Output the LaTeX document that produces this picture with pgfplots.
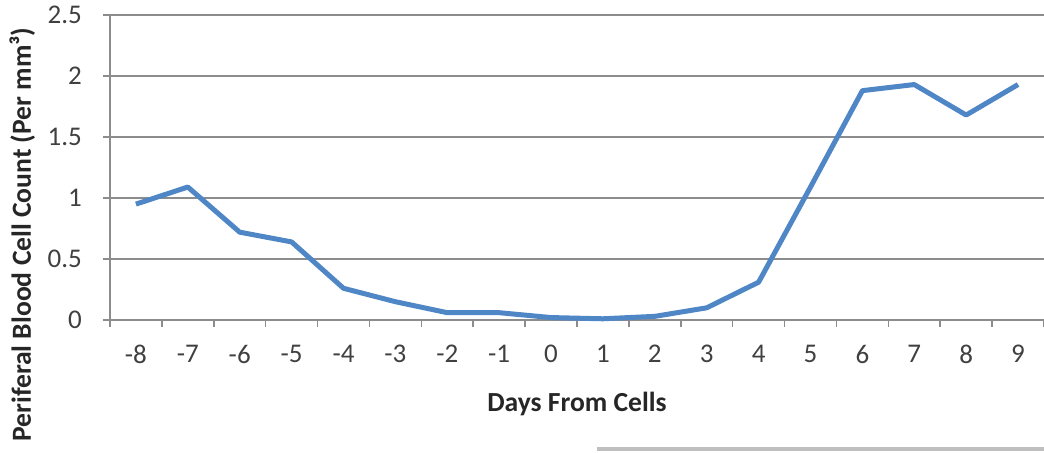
\documentclass[border=0pt]{standalone}
\usepackage{pgfplots}
\pgfplotsset{compat=1.18}
\usepackage{fontspec}
\setmainfont{Carlito}
\definecolor{linecol}{RGB}{79,134,198}
\definecolor{gridcol}{RGB}{140,140,140}
\definecolor{labcol}{RGB}{64,64,64}
\begin{document}
\begin{tikzpicture}
\useasboundingbox (-55pt,-66pt) rectangle (467pt,160pt);
\begin{axis}[
  at={(0,0)}, anchor=south west,
  scale only axis, width=467pt, height=152.5pt,
  xmin=-8.5, xmax=9.5, ymin=0, ymax=2.5,
  axis x line*=bottom, axis y line*=left,
  axis line style={-, draw=gridcol, line width=1pt},
  xtick={-8,...,9},
  xticklabels={-8,-7,-6,-5,-4,-3,-2,-1,0,1,2,3,4,5,6,7,8,9},
  minor xtick={-8.5,-7.5,...,9.5},
  major x tick style={draw=none},
  ytick={0,0.5,1,1.5,2,2.5},
  yticklabels={0,0.5,1,1.5,2,2.5},
  ymajorgrids, grid style={draw=gridcol, line width=1pt},
  tick align=outside, major tick length=3.5pt, minor tick length=3.5pt,
  every tick/.style={draw=gridcol, line width=0.8pt},
  ticklabel style={font=\fontsize{13.5}{15}\selectfont, text=labcol},
  x tick label style={yshift=-5.5pt},
  y tick label style={xshift=-7pt},
  /pgf/number format/assume math mode=true,
  xlabel={Days From Cells},
  ylabel={Periferal Blood Cell Count (Per mm³)},
  label style={font=\fontsize{13.8}{15}\selectfont\bfseries, text=black!85},
  xlabel style={at={(axis description cs:0.5,0)}, anchor=center, yshift=-42pt},
  ylabel style={at={(axis description cs:-0.094,0.28)}, anchor=center, rotate=0},
  clip=false,
]
\addplot[linecol, line width=2.5pt, line join=round] table {
x y
-8 0.95
-7 1.09
-6 0.72
-5 0.64
-4 0.26
-3 0.15
-2 0.06
-1 0.06
0 0.02
1 0.01
2 0.03
3 0.10
4 0.31
5 1.09
6 1.88
7 1.93
8 1.68
9 1.93
};
\end{axis}
\draw[black!25, line width=1.6pt] (243.5pt,-64.5pt) -- (467pt,-64.5pt);
\end{tikzpicture}
\end{document}
